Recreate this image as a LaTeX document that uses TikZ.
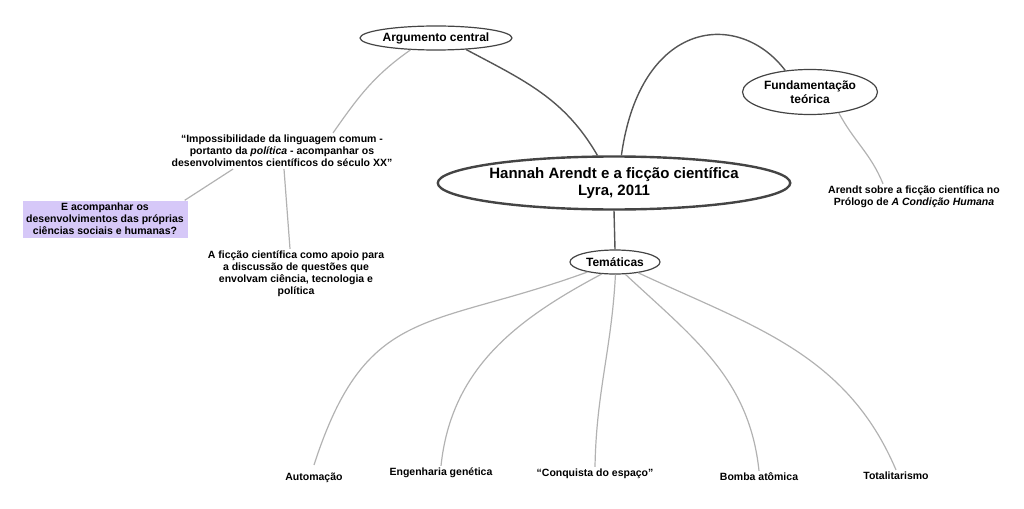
\documentclass[tikz,border=0pt]{standalone}
\usepackage{fontspec}
\setmainfont{Liberation Sans}
\usetikzlibrary{shapes.geometric}
\definecolor{lilac}{HTML}{D6C8F8}
\definecolor{rim}{HTML}{444444}
\definecolor{darkline}{HTML}{555555}
\definecolor{lightline}{HTML}{B2B2B2}
\begin{document}
\begin{tikzpicture}[x=1pt, y=-1pt,
  leaf/.style={font=\fontsize{10.5}{12}\selectfont\bfseries, align=center, inner sep=2pt},
  topic/.style={ellipse, draw=rim, line width=1.2pt, inner sep=0pt, font=\fontsize{12}{13.5}\selectfont\bfseries, align=center},
  central/.style={ellipse, draw=rim, line width=2.4pt, inner sep=0pt, font=\fontsize{15}{17}\selectfont\bfseries, align=center},
  mainline/.style={draw=darkline, line width=1.4pt},
  subline/.style={draw=lightline, line width=1.2pt}]

\useasboundingbox (0,0) rectangle (1024,508);

\node[central, minimum width=348pt, minimum height=53pt] (hannah) at (614,183) {Hannah Arendt e a ficção científica\\Lyra, 2011};
\node[topic, minimum width=152pt, minimum height=24pt] (argumento) at (436,38) {Argumento central};
\node[topic, minimum width=135pt, minimum height=45pt] (fundamentacao) at (810,92) {Fundamentação\\teórica};
\node[topic, minimum width=90pt, minimum height=24pt] (tematicas) at (615,262) {Temáticas};

\node[leaf] (impossibilidade) at (282,151) {“Impossibilidade da linguagem comum -\\portanto da \textit{política} - acompanhar os\\desenvolvimentos científicos do século XX”};
\node[leaf, fill=lilac, minimum width=165pt, minimum height=37pt] (acompanhar) at (105,219) {E acompanhar os\\desenvolvimentos das próprias\\ciências sociais e humanas?};
\node[leaf] (apoio) at (296,274) {A ficção científica como apoio para\\a discussão de questões que\\envolvam ciência, tecnologia e\\política};
\node[leaf] (prologo) at (914,197) {Arendt sobre a ficção científica no\\Prólogo de \textit{A Condição Humana}};

\node[leaf] (automacao) at (314,478) {Automação};
\node[leaf] (engenharia) at (441,473) {Engenharia genética};
\node[leaf] (conquista) at (595,474) {“Conquista do espaço”};
\node[leaf] (bomba) at (759,477) {Bomba atômica};
\node[leaf] (totalitarismo) at (896,476) {Totalitarismo};

\begin{scope}[mainline]
\draw (argumento.-21) to[out=-28, in=120] (hannah.121);
\draw (hannah.75) .. controls +(19,-137) and +(-46,-61) .. (fundamentacao.139);
\draw (hannah.south) -- (tematicas.north);
\end{scope}

\begin{scope}[subline]
\draw (argumento.205) to[out=215, in=55] ([xshift=51pt]impossibilidade.north);
\draw ([xshift=-49pt]impossibilidade.south) -- ([xshift=-3pt]acompanhar.north east);
\draw ([xshift=2pt]impossibilidade.south) -- ([xshift=-6pt]apoio.north);
\draw (fundamentacao.-36) to[out=-62, in=112] ([xshift=-31pt]prologo.north);
\draw (tematicas.200) to[out=200, in=72, looseness=1.3] ([yshift=6pt]automacao.north);
\draw (tematicas.222) to[out=208, in=84] (engenharia.north);
\draw (tematicas.-88) to[out=-93, in=89] (conquista.north);
\draw (tematicas.-50) to[out=-43, in=96] (bomba.north);
\draw (tematicas.-25) to[out=-25, in=113] (totalitarismo.north);
\end{scope}

\end{tikzpicture}
\end{document}
